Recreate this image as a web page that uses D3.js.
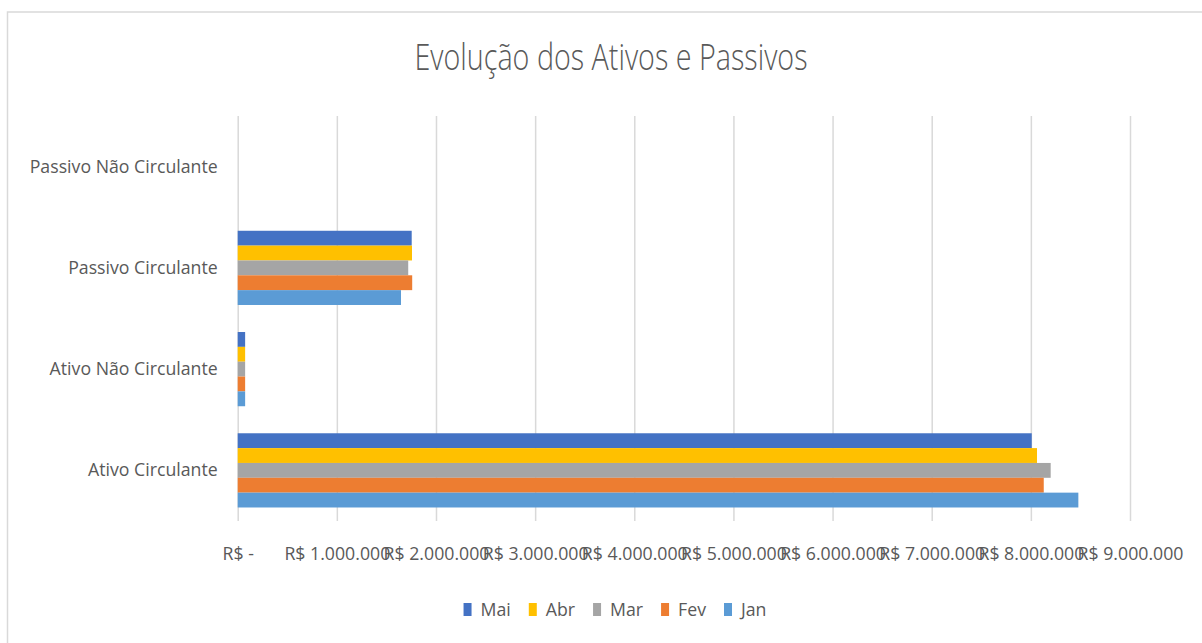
<!DOCTYPE html>
<html lang="pt-BR">
<head>
<meta charset="utf-8">
<title>Evolução dos Ativos e Passivos</title>
<script src="https://cdn.jsdelivr.net/npm/d3@7"></script>
<style>
  html, body { margin: 0; padding: 0; background: #ffffff; }
  svg { display: block; }
  text { font-family: 'Liberation Sans Narrow', 'Open Sans', sans-serif; fill: #595959; }
</style>
</head>
<body>
<svg id="chart" width="1202" height="643"></svg>
<script>
// Categories, listed bottom to top as they appear on the vertical axis
const categories = ["Ativo Circulante", "Ativo Não Circulante", "Passivo Circulante", "Passivo Não Circulante"];

// Series (one per month), values in R$ for each category above
const months = ["Mai", "Abr", "Mar", "Fev", "Jan"];
const mai = [8009000, 75000, 1755000, 0];
const abr = [8062000, 75000, 1758000, 0];
const mar = [8200000, 75000, 1720000, 0];
const fev = [8130000, 75000, 1760000, 0];
const jan = [8479000, 75000, 1647000, 0];
const seriesValues = [mai, abr, mar, fev, jan];
const seriesColors = ["#4472C4", "#FFC000", "#A5A5A5", "#ED7D31", "#5B9BD5"];

// Horizontal axis ticks
const tickValues = [0, 1000000, 2000000, 3000000, 4000000, 5000000, 6000000, 7000000, 8000000, 9000000];
const tickLabels = ["R$ -", "R$ 1.000.000", "R$ 2.000.000", "R$ 3.000.000", "R$ 4.000.000",
                    "R$ 5.000.000", "R$ 6.000.000", "R$ 7.000.000", "R$ 8.000.000", "R$ 9.000.000"];

const svg = d3.select("#chart");
const plot = { left: 237.7, right: 1130, top: 116, bottom: 521 };
const fontSize = 19;

// Chart frame (extends past the right and bottom edges of the view)
svg.append("rect")
  .attr("x", 7.5).attr("y", 12)
  .attr("width", 1210).attr("height", 650)
  .attr("fill", "#ffffff")
  .attr("stroke", "#d9d9d9").attr("stroke-width", 1.5);

const x = d3.scaleLinear().domain([0, 9000000]).range([plot.left, plot.right]);

const y = d3.scaleBand()
  .domain(categories.slice().reverse())
  .range([plot.top, plot.bottom])
  .paddingInner(0.267)
  .paddingOuter(0.1335);

const ySub = d3.scaleBand().domain(months).range([0, y.bandwidth()]);

// Horizontal compression so the labels have the narrow look of the chart's typeface
const probe = svg.append("text").attr("font-size", fontSize).text("Passivo Não Circulante");
const k = 188 / probe.node().getComputedTextLength();
probe.remove();
function squeeze(sel, factor) {
  sel.each(function () {
    const w = this.getComputedTextLength();
    if (w > 0) d3.select(this).attr("textLength", w * factor).attr("lengthAdjust", "spacingAndGlyphs");
  });
}

// Vertical gridlines
const grid = svg.append("g")
  .attr("transform", `translate(0,${plot.bottom})`)
  .call(d3.axisBottom(x).tickValues(tickValues).tickSize(-(plot.bottom - plot.top)).tickFormat(""));
grid.select(".domain").remove();
grid.selectAll(".tick line").attr("stroke", "#d9d9d9").attr("stroke-width", 1.5);

// Bars
const groups = svg.append("g").selectAll("g")
  .data(categories)
  .join("g")
  .attr("transform", d => `translate(0,${y(d)})`);

groups.selectAll("rect")
  .data((cat, ci) => months.map((m, si) => ({ month: m, value: seriesValues[si][ci], color: seriesColors[si] })))
  .join("rect")
  .attr("x", x(0))
  .attr("y", d => ySub(d.month))
  .attr("width", d => x(d.value) - x(0))
  .attr("height", ySub.bandwidth())
  .attr("fill", d => d.color)
  .attr("display", d => d.value > 0 ? null : "none");

// Horizontal axis labels
const xAxis = svg.append("g")
  .attr("transform", `translate(0,${plot.bottom})`)
  .call(d3.axisBottom(x).tickValues(tickValues).tickSize(0).tickFormat((d, i) => tickLabels[i]));
xAxis.select(".domain").remove();
xAxis.selectAll(".tick text")
  .attr("y", 39).attr("dy", null)
  .attr("font-size", fontSize)
  .attr("fill", "#595959")
  .call(squeeze, k);

// Category labels
const yAxis = svg.append("g")
  .attr("transform", `translate(${plot.left},0)`)
  .call(d3.axisLeft(y).tickSize(0).tickPadding(20));
yAxis.select(".domain").remove();
yAxis.selectAll(".tick text")
  .attr("font-size", fontSize)
  .attr("fill", "#595959")
  .call(squeeze, k);

// Title
svg.append("text")
  .attr("x", 611).attr("y", 70)
  .attr("text-anchor", "middle")
  .attr("font-size", 36)
  .attr("font-weight", 300)
  .attr("textLength", 393).attr("lengthAdjust", "spacingAndGlyphs")
  .text("Evolução dos Ativos e Passivos");

// Legend
const legend = svg.append("g");
const items = legend.selectAll("g").data(months).join("g");
items.append("rect")
  .attr("width", 8).attr("height", 13)
  .attr("y", -13)
  .attr("fill", (d, i) => seriesColors[i]);
items.append("text")
  .attr("x", 17)
  .attr("font-size", fontSize)
  .text(d => d)
  .call(squeeze, k);
let cursor = 0;
items.each(function () {
  const t = d3.select(this).select("text").node();
  const w = +t.getAttribute("textLength") || t.getComputedTextLength();
  d3.select(this).attr("transform", `translate(${cursor},0)`);
  cursor += 17 + w + 18;
});
const legendWidth = cursor - 18;
legend.attr("transform", `translate(${615 - legendWidth / 2},616)`);
</script>
</body>
</html>
